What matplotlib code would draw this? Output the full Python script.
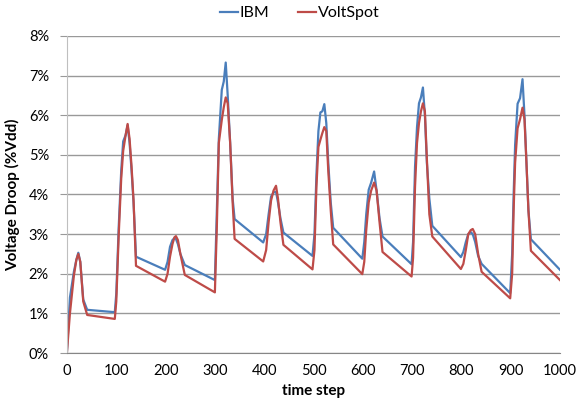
import matplotlib.pyplot as plt
from matplotlib.ticker import FuncFormatter

# time steps (shared by both series)
steps = [0, 6, 14, 19, 23, 27, 33, 41, 97,
         100, 105, 110, 114, 119, 123, 127, 131, 135, 140, 199,
         204, 209, 214, 218, 221, 225, 230, 239, 300,
         304, 308, 314, 318, 322, 326, 331, 336, 340, 398,
         404, 409, 414, 419, 424, 428, 433, 439, 498,
         502, 506, 510, 514, 518, 522, 526, 530, 535, 540, 599,
         603, 607, 612, 617, 623, 628, 634, 640, 699,
         702, 706, 710, 714, 718, 722, 726, 730, 735, 741, 799,
         804, 809, 814, 819, 823, 828, 834, 841, 899,
         903, 906, 909, 914, 919, 924, 928, 932, 936, 941, 1000]

ibm = [0.05, 1.4, 2.05, 2.35, 2.53, 2.3, 1.35, 1.09, 1.03,
       1.5, 3.2, 4.6, 5.34, 5.5, 5.75, 5.3, 4.6, 3.8, 2.43, 2.1,
       2.3, 2.68, 2.85, 2.9, 2.88, 2.75, 2.5, 2.22, 1.84,
       3.6, 5.4, 6.64, 6.85, 7.33, 6.5, 5.3, 3.9, 3.38, 2.79,
       3.0, 3.5, 3.95, 4.05, 4.07, 3.8, 3.4, 3.04, 2.45,
       3.0, 4.5, 5.6, 6.07, 6.1, 6.28, 5.8, 4.8, 3.8, 3.16, 2.38,
       2.8, 3.5, 4.12, 4.3, 4.58, 4.1, 3.4, 2.94, 2.24,
       2.8, 4.7, 5.7, 6.3, 6.45, 6.7, 6.0, 4.8, 3.9, 3.21, 2.42,
       2.55, 2.8, 3.0, 3.05, 3.0, 2.8, 2.45, 2.25, 1.51,
       2.5, 4.0, 5.25, 6.29, 6.43, 6.91, 6.0, 4.8, 3.6, 2.87, 2.1]

voltspot = [0.03, 1.0, 1.95, 2.35, 2.5, 2.3, 1.3, 0.96, 0.86,
            1.3, 3.0, 4.4, 5.1, 5.5, 5.78, 5.4, 4.7, 3.86, 2.2, 1.8,
            2.0, 2.43, 2.75, 2.92, 2.95, 2.85, 2.5, 1.97, 1.53,
            3.2, 5.3, 5.88, 6.2, 6.45, 6.3, 5.3, 3.8, 2.88, 2.31,
            2.6, 3.3, 3.85, 4.1, 4.22, 3.9, 3.3, 2.73, 2.11,
            2.6, 4.2, 5.2, 5.38, 5.55, 5.7, 5.6, 4.6, 3.6, 2.74, 1.99,
            2.3, 3.1, 3.8, 4.1, 4.3, 4.1, 3.3, 2.55, 1.93,
            2.4, 4.2, 5.3, 5.8, 6.1, 6.3, 6.1, 4.9, 3.5, 2.94, 2.12,
            2.25, 2.6, 3.0, 3.1, 3.13, 3.0, 2.5, 2.05, 1.38,
            2.0, 3.6, 4.8, 5.67, 5.9, 6.19, 5.9, 4.8, 3.6, 2.58, 1.84]

plt.rcParams['font.family'] = ['Lato', 'DejaVu Sans']

fig = plt.figure(figsize=(5.86, 4.08), dpi=100)
ax = fig.add_axes([0.1143, 0.1348, 0.8413, 0.777])

ax.plot(steps, ibm, color='#4A7EBB', lw=1.6, label='IBM')
ax.plot(steps, voltspot, color='#BE4B48', lw=1.6, label='VoltSpot')

ax.set_xlim(0, 1000)
ax.set_ylim(0, 8)
ax.set_xticks(range(0, 1001, 100))
ax.set_yticks(range(0, 9))
ax.yaxis.set_major_formatter(FuncFormatter(lambda v, p: '%d%%' % v))
ax.grid(axis='y', color='#999999', lw=1)
ax.set_axisbelow(True)

for s in ['top', 'right']:
    ax.spines[s].set_visible(False)
ax.spines['left'].set_color('#BFBFBF')
ax.spines['bottom'].set_color('#868686')
ax.tick_params(axis='y', length=5, color='#999999', labelsize=10.5, pad=8)
ax.tick_params(axis='x', length=0, labelsize=10.5, pad=8)

ax.set_xlabel('time step', fontsize=11, fontweight='bold', labelpad=4)
ax.set_ylabel('Voltage Droop (%Vdd)', fontsize=11, fontweight='bold', labelpad=6)

fig.legend(loc='center', bbox_to_anchor=(0.512, 0.968), ncol=2, frameon=False,
           fontsize=11.5, handlelength=1.1, handletextpad=0.15, columnspacing=1.8)

fig.savefig('out.png', dpi=100)
